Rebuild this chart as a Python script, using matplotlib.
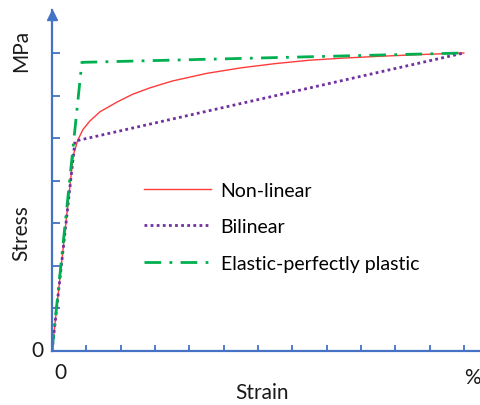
import matplotlib.pyplot as plt
import numpy as np

plt.rcParams['font.family'] = ['Lato', 'DejaVu Sans']

# strain in tick units (12 ticks), stress in tick units (7 ticks)
nonlinear_x = [0, 0.62, 0.75, 0.9, 1.1, 1.4, 1.9, 2.35, 2.85, 3.5, 4.5, 5.5, 6.5, 7.5, 8.5, 9.5, 10.5, 11.3, 12]
nonlinear_y = [0, 4.6, 4.95, 5.2, 5.4, 5.62, 5.85, 6.03, 6.18, 6.34, 6.52, 6.65, 6.75, 6.83, 6.88, 6.92, 6.955, 6.98, 7.0]
bilinear_x = [0, 0.67, 12]
bilinear_y = [0, 4.93, 7.0]
epp_x = [0, 0.87, 12]
epp_y = [0, 6.78, 7.0]

axis_blue = '#4472C4'
W, H = 481, 406

fig = plt.figure(figsize=(W / 100, H / 100), dpi=100)
ax = fig.add_axes([52 / W, (H - 352) / H, (W - 52) / W, 340.6 / H])

l1, = ax.plot(nonlinear_x, nonlinear_y, color='#FF3B3B', lw=1.0, label='Non-linear')
l2, = ax.plot(bilinear_x, bilinear_y, color='#7030A0', lw=2.0, linestyle=(0, (1, 1.2)), label='Bilinear')
l3, = ax.plot(epp_x, epp_y, color='#00B050', lw=2.0, linestyle=(0, (6, 3, 1, 3)), label='Elastic-perfectly plastic')

ax.set_xlim(0, 12.5)
ax.set_ylim(0, 8)
for side in ['top', 'right']:
    ax.spines[side].set_visible(False)
for side in ['left', 'bottom']:
    ax.spines[side].set_color(axis_blue)
    ax.spines[side].set_linewidth(1.6)
ax.set_xticks(np.arange(1, 13))
ax.set_yticks(np.arange(1, 8))
ax.tick_params(axis='both', direction='in', colors=axis_blue, width=1.3,
               labelleft=False, labelbottom=False)
ax.tick_params(axis='y', length=6)
ax.tick_params(axis='x', length=4.5)

# arrow head on the stress axis
ax.plot(0, 7.9, marker='^', color=axis_blue, markersize=7, clip_on=False)

def px_text(x, y, s, **kw):
    fig.text(x / W, 1 - y / H, s, ha='center', va='center', color='#1a1a1a', **kw)

px_text(21, 51, 'MPa', fontsize=15, rotation=90)
px_text(21, 233, 'Stress', fontsize=15, rotation=90)
px_text(37, 351, '0', fontsize=15)
px_text(60, 373, '0', fontsize=15)
px_text(472, 378, '%', fontsize=15)
px_text(262, 393, 'Strain', fontsize=15)

ax.legend(handles=[l1, l2, l3], loc='upper left', bbox_to_anchor=(134 / W, 1 - 173 / H),
          bbox_transform=fig.transFigure, frameon=False, fontsize=14,
          handlelength=3.45, handletextpad=0.5, labelspacing=1.0, borderpad=0)

fig.savefig('out.png', dpi=100)
